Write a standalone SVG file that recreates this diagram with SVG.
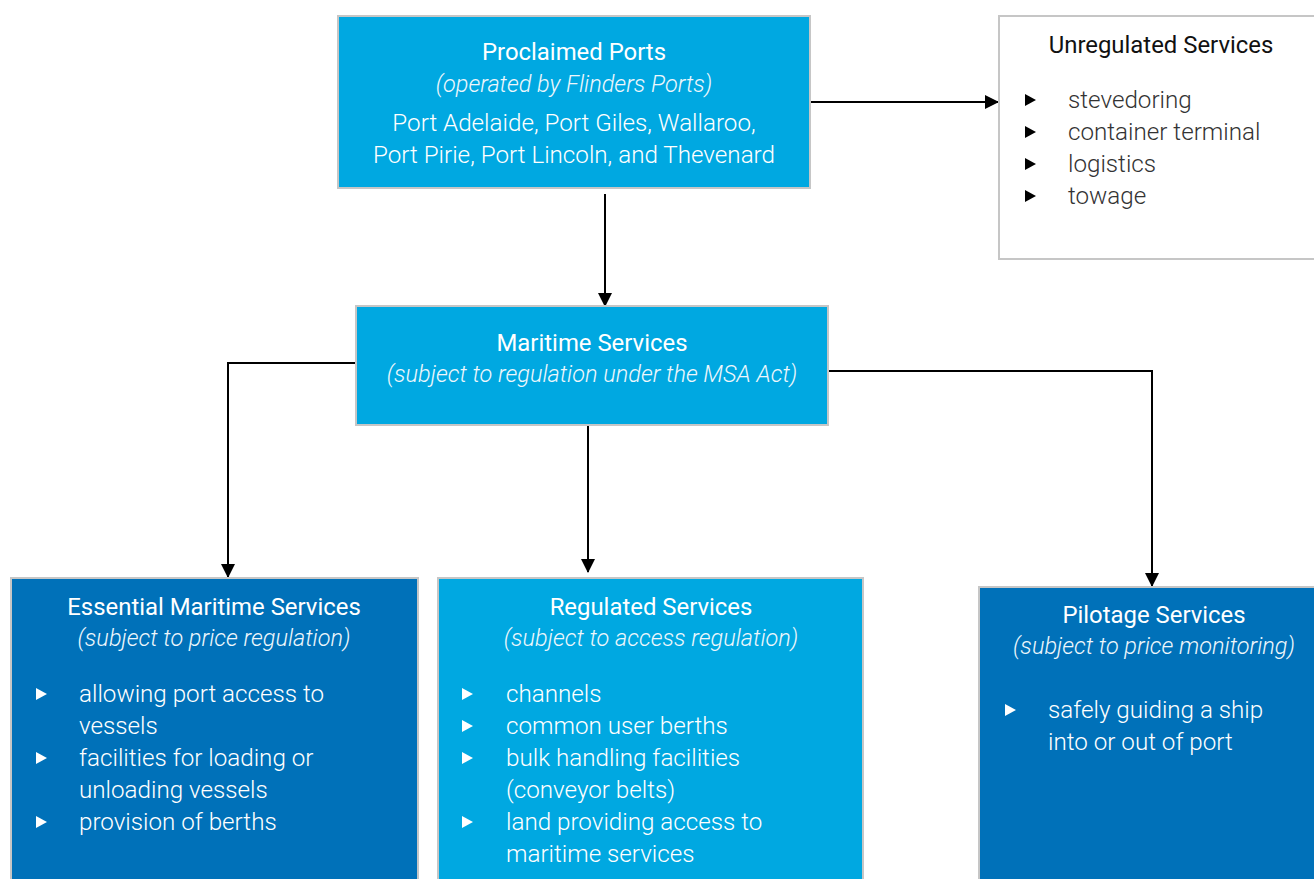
<svg xmlns="http://www.w3.org/2000/svg" width="1314" height="879" viewBox="0 0 1314 879">
<style>
.box{stroke:#c6c6c6;stroke-width:2}
.lb{fill:#00a8e1}
.db{fill:#0071b9}
.wb{fill:#ffffff}
text{font-family:Roboto,"Liberation Sans",sans-serif;font-size:24.2px}
.t{font-weight:400;fill:#ffffff;text-anchor:middle;font-size:23.9px}
.s{font-weight:300;font-style:italic;fill:#eef7fc;text-anchor:middle;font-size:23.5px}
.b{font-weight:300;fill:#ffffff}
.bc{text-anchor:middle}
.bul{fill:#ffffff}
.bulk{fill:#000000}
.c{fill:none;stroke:#000000;stroke-width:2}
</style>
<defs>
<marker id="ah" markerWidth="14" markerHeight="14" refX="13" refY="7" orient="auto" markerUnits="userSpaceOnUse" viewBox="0 0 14 14">
<path d="M0,0 L14,7 L0,14 z" fill="#000"/>
</marker>
<path id="tri" d="M0,-6 L11,0 L0,6 z"/>
</defs>
<rect width="1314" height="879" fill="#ffffff"/>
<g id="connectors">
<path class="c" d="M810,102 H998" marker-end="url(#ah)"/>
<path class="c" d="M605,194 V306" marker-end="url(#ah)"/>
<path class="c" d="M356,363 H228 V577" marker-end="url(#ah)"/>
<path class="c" d="M588,425 V572" marker-end="url(#ah)"/>
<path class="c" d="M828,371 H1152 V586" marker-end="url(#ah)"/>
</g>
<g id="proclaimed">
<rect class="box lb" x="338" y="16" width="472" height="172"/>
<text class="t" x="574" y="60">Proclaimed Ports</text>
<text class="s" x="574" y="92">(operated by Flinders Ports)</text>
<text class="b bc" x="574" y="131">Port Adelaide, Port Giles, Wallaroo,</text>
<text class="b bc" x="574" y="163">Port Pirie, Port Lincoln, and Thevenard</text>
</g>
<g id="unregulated">
<rect class="box wb" x="999" y="16" width="330" height="243"/>
<text class="t" x="1161" y="53" style="fill:#111">Unregulated Services</text>
<use href="#tri" class="bulk" x="1025" y="100"/>
<use href="#tri" class="bulk" x="1025" y="132"/>
<use href="#tri" class="bulk" x="1025" y="164"/>
<use href="#tri" class="bulk" x="1025" y="196"/>
<text class="b" x="1068" y="108" style="fill:#333">stevedoring</text>
<text class="b" x="1068" y="140" style="fill:#333">container terminal</text>
<text class="b" x="1068" y="172" style="fill:#333">logistics</text>
<text class="b" x="1068" y="204" style="fill:#333">towage</text>
</g>
<g id="maritime">
<rect class="box lb" x="356" y="306" width="472" height="119"/>
<text class="t" x="592" y="351">Maritime Services</text>
<text class="s" x="592" y="382">(subject to regulation under the MSA Act)</text>
</g>
<g id="essential">
<rect class="box db" x="11" y="578" width="407" height="320"/>
<text class="t" x="214" y="615">Essential Maritime Services</text>
<text class="s" x="214" y="646">(subject to price regulation)</text>
<use href="#tri" class="bul" x="36" y="694"/>
<use href="#tri" class="bul" x="36" y="758"/>
<use href="#tri" class="bul" x="36" y="822"/>
<text class="b" x="79" y="702">allowing port access to</text>
<text class="b" x="79" y="734">vessels</text>
<text class="b" x="79" y="766">facilities for loading or</text>
<text class="b" x="79" y="798">unloading vessels</text>
<text class="b" x="79" y="830">provision of berths</text>
</g>
<g id="regulated">
<rect class="box lb" x="438" y="578" width="425" height="320"/>
<text class="t" x="651" y="615">Regulated Services</text>
<text class="s" x="651" y="646">(subject to access regulation)</text>
<use href="#tri" class="bul" x="462" y="694"/>
<use href="#tri" class="bul" x="462" y="726"/>
<use href="#tri" class="bul" x="462" y="758"/>
<use href="#tri" class="bul" x="462" y="822"/>
<text class="b" x="506" y="702">channels</text>
<text class="b" x="506" y="734">common user berths</text>
<text class="b" x="506" y="766">bulk handling facilities</text>
<text class="b" x="506" y="798">(conveyor belts)</text>
<text class="b" x="506" y="830">land providing access to</text>
<text class="b" x="506" y="862">maritime services</text>
</g>
<g id="pilotage">
<rect class="box db" x="979" y="587" width="350" height="310"/>
<text class="t" x="1154" y="623">Pilotage Services</text>
<text class="s" x="1154" y="654">(subject to price monitoring)</text>
<use href="#tri" class="bul" x="1005" y="710"/>
<text class="b" x="1048" y="718">safely guiding a ship</text>
<text class="b" x="1048" y="750">into or out of port</text>
</g>
</svg>
